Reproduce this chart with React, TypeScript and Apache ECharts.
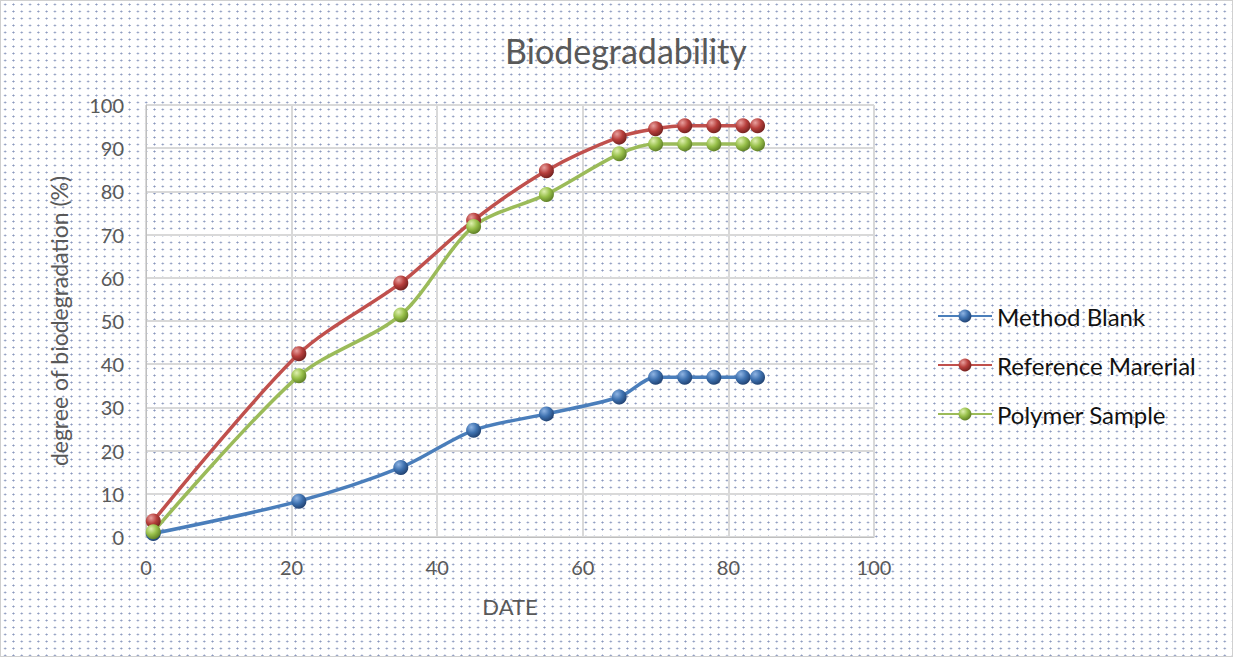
import React, { useEffect, useRef } from "react";
import * as echarts from "echarts";

const days = [1, 21, 35, 45, 55, 65, 70, 74, 78, 82, 84];
const methodBlank = [0.8, 8.3, 16.1, 24.7, 28.5, 32.4, 37, 37, 37, 37, 37];
const referenceMaterial = [3.7, 42.4, 58.8, 73.3, 84.8, 92.6, 94.5, 95.2, 95.2, 95.2, 95.2];
const polymerSample = [1.2, 37.3, 51.4, 71.9, 79.3, 88.7, 91, 91, 91, 91, 91];
const seriesNames = ["Method Blank", "Reference Marerial", "Polymer Sample"];
const xTicks = { min: 0, max: 100, interval: 20 };
const yTicks = { min: 0, max: 100, interval: 10 };

const FONT = "Lato, 'Noto Sans', sans-serif";

function sphere(light: string, mid: string, dark: string) {
  return new echarts.graphic.RadialGradient(0.35, 0.3, 0.75, [
    { offset: 0, color: light },
    { offset: 0.5, color: mid },
    { offset: 1, color: dark },
  ]);
}

export default function App() {
  const ref = useRef<HTMLDivElement>(null);
  useEffect(() => {
    document.body.style.margin = "0";
    const chart = echarts.init(ref.current!, undefined, { renderer: "svg" });
    const mk = (vals: number[]) => days.map((d, i) => [d, vals[i]]);
    const defs = [
      { name: seriesNames[0], data: mk(methodBlank), line: "#4a7ebb", sym: sphere("#8fb4e3", "#3f72b0", "#1f3f6e") },
      { name: seriesNames[1], data: mk(referenceMaterial), line: "#c0504d", sym: sphere("#e8a09e", "#b8403d", "#6e1f1d") },
      { name: seriesNames[2], data: mk(polymerSample), line: "#9bbb59", sym: sphere("#dff0b0", "#98c04a", "#5a7a24") },
    ];
    chart.setOption({
      animation: false,
      backgroundColor: "transparent",
      title: {
        text: "Biodegradability",
        left: 620,
        textAlign: "center",
        top: 27,
        textStyle: { fontFamily: FONT, fontSize: 34, fontWeight: "normal", color: "#595959" },
      },
      legend: {
        orient: "vertical",
        left: 931,
        top: 298,
        itemWidth: 54,
        itemHeight: 16,
        itemGap: 25,
        textStyle: { fontFamily: FONT, fontSize: 24, color: "#111" },
        data: seriesNames,
      },
      grid: { left: 145, right: 358, top: 104, bottom: 119, show: true, borderColor: "#d9d9d9", borderWidth: 1, backgroundColor: "transparent" },
      xAxis: {
        type: "value",
        ...xTicks,
        name: "DATE",
        nameLocation: "middle",
        nameGap: 58,
        nameTextStyle: { fontFamily: FONT, fontSize: 22, color: "#595959" },
        axisLine: { show: true, lineStyle: { color: "#bfbfbf", width: 1 } },
        axisTick: { show: false },
        axisLabel: { fontFamily: FONT, fontSize: 20, color: "#595959", margin: 20 },
        splitLine: { show: true, lineStyle: { color: "#d9d9d9", width: 2 } },
      },
      yAxis: {
        type: "value",
        ...yTicks,
        name: "degree of biodegradation (%)",
        nameLocation: "middle",
        nameGap: 76,
        nameRotate: 90,
        nameTextStyle: { fontFamily: FONT, fontSize: 23, color: "#595959" },
        axisLine: { show: true, lineStyle: { color: "#bfbfbf", width: 1 } },
        axisTick: { show: false },
        axisLabel: { fontFamily: FONT, fontSize: 20, color: "#595959", margin: 22 },
        splitLine: { show: true, lineStyle: { color: "#d9d9d9", width: 2 } },
      },
      series: defs.map((d) => ({
        type: "line",
        name: d.name,
        data: d.data,
        smooth: 0.3,
        symbol: "circle",
        symbolSize: 15,
        lineStyle: { color: d.line, width: 3.5 },
        itemStyle: { color: d.sym, borderWidth: 0 },
      })),
    });
    return () => chart.dispose();
  }, []);
  return (
    <div
      style={{
        position: "absolute",
        left: 0,
        top: 0,
        width: 1233,
        height: 657,
        boxSizing: "border-box",
        border: "1px solid #d0d0d0",
        backgroundColor: "#fff",
        backgroundImage: "radial-gradient(circle, #8896bd 0.8px, transparent 1.2px)",
        backgroundSize: "8.3px 7px",
      }}
    >
      <div ref={ref} style={{ width: 1231, height: 655 }} />
    </div>
  );
}
